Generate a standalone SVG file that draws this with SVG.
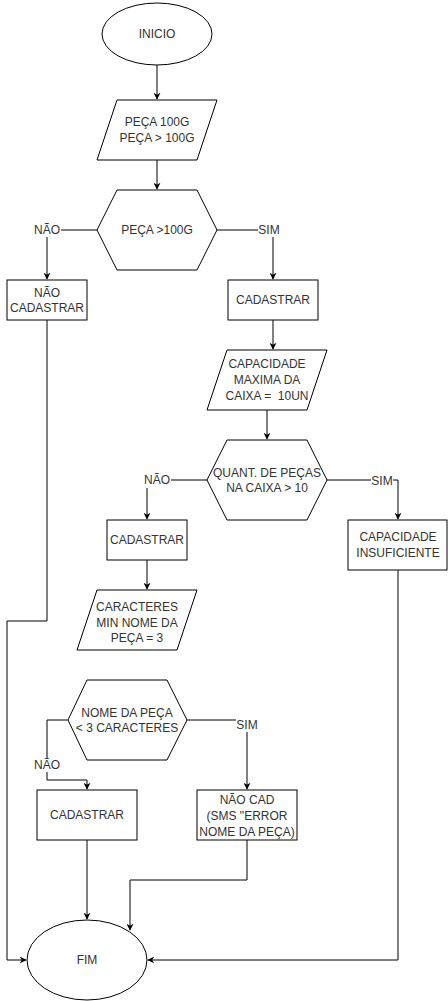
<svg xmlns="http://www.w3.org/2000/svg" width="448" height="1001" viewBox="0 0 448 1001">
<defs>
<marker id="arr" viewBox="0 0 10 10" refX="9" refY="5" markerWidth="7" markerHeight="7" orient="auto" markerUnits="userSpaceOnUse">
<path d="M0,0 L10,5 L0,10 L3,5 Z" fill="#000"/>
</marker>
<style>
.s{fill:#fff;stroke:#000;stroke-width:1}
.t{font-family:"Liberation Sans",Arial,sans-serif;font-size:12px;fill:#333;text-anchor:middle;dominant-baseline:central;white-space:pre}
.c{fill:none;stroke:#000;stroke-width:1}
.lb{fill:#fff}
</style>
</defs>
<rect width="448" height="1001" fill="#fff"/>
<g id="connectors">
<path class="c" d="M157,65 V99" marker-end="url(#arr)"/>
<path class="c" d="M157,160 V189" marker-end="url(#arr)"/>
<path class="c" d="M97,230 H47 V279" marker-end="url(#arr)"/>
<path class="c" d="M217,230 H273 V279" marker-end="url(#arr)"/>
<path class="c" d="M273,320 V349" marker-end="url(#arr)"/>
<path class="c" d="M267,410 V439" marker-end="url(#arr)"/>
<path class="c" d="M327,480 H398 V519" marker-end="url(#arr)"/>
<path class="c" d="M207,480 H147 V519" marker-end="url(#arr)"/>
<path class="c" d="M147,560 V589" marker-end="url(#arr)"/>
<path class="c" d="M47,320 V621 H7 V960 H26" marker-end="url(#arr)"/>
<path class="c" d="M187,720 H247 V789" marker-end="url(#arr)"/>
<path class="c" d="M68,720 H47 V780 H87 V789" marker-end="url(#arr)"/>
<path class="c" d="M87,840 V919" marker-end="url(#arr)"/>
<path class="c" d="M247,840 V880 H130 V930" marker-end="url(#arr)"/>
<path class="c" d="M398,570 V960 H148" marker-end="url(#arr)"/>
<rect class="lb" x="33" y="223" width="28" height="14"/>
<text class="t" x="47" y="230">NÃO</text>
<rect class="lb" x="258" y="223" width="22" height="14"/>
<text class="t" x="269" y="230">SIM</text>
<rect class="lb" x="371" y="474" width="22" height="14"/>
<text class="t" x="382" y="481">SIM</text>
<rect class="lb" x="143" y="474" width="28" height="14"/>
<text class="t" x="157" y="480">NÃO</text>
<rect class="lb" x="236" y="718" width="22" height="14"/>
<text class="t" x="247" y="725">SIM</text>
<rect class="lb" x="33" y="758" width="28" height="14"/>
<text class="t" x="47" y="765">NÃO</text>
</g>
<g id="inicio">
<ellipse class="s" cx="157" cy="34" rx="55" ry="31"/>
<text class="t" x="157" y="34">INICIO</text>
</g>
<g id="peca-input">
<polygon class="s" points="117,100 217,100 197,160 97,160"/>
<text class="t" x="157" y="122">PEÇA 100G</text>
<text class="t" x="157" y="138">PEÇA &gt; 100G</text>
</g>
<g id="dec-peca">
<polygon class="s" points="117,190 197,190 217,230 197,270 117,270 97,230"/>
<text class="t" x="157" y="230">PEÇA &gt;100G</text>
</g>
<g id="nao-cadastrar">
<rect class="s" x="7" y="280" width="80" height="40"/>
<text class="t" x="47" y="293">NÃO</text>
<text class="t" x="47" y="308">CADASTRAR</text>
</g>
<g id="cadastrar1">
<rect class="s" x="228" y="280" width="90" height="40"/>
<text class="t" x="273" y="300">CADASTRAR</text>
</g>
<g id="capacidade">
<polygon class="s" points="227,350 327,350 307,410 207,410"/>
<text class="t" x="267" y="364">CAPACIDADE</text>
<text class="t" x="267" y="380">MAXIMA DA</text>
<text class="t" x="267" y="396">CAIXA =&#160; 10UN</text>
</g>
<g id="dec-quant">
<polygon class="s" points="227,440 307,440 327,480 307,520 227,520 207,480"/>
<text class="t" x="267" y="473">QUANT. DE PEÇAS</text>
<text class="t" x="267" y="488">NA CAIXA &gt; 10</text>
</g>
<g id="insuficiente">
<rect class="s" x="348" y="520" width="99" height="50"/>
<text class="t" x="398" y="537">CAPACIDADE</text>
<text class="t" x="398" y="553">INSUFICIENTE</text>
</g>
<g id="cadastrar2">
<rect class="s" x="107" y="520" width="80" height="40"/>
<text class="t" x="147" y="540">CADASTRAR</text>
</g>
<g id="caracteres">
<polygon class="s" points="97,590 197,590 177,650 77,650"/>
<text class="t" x="137" y="607">CARACTERES</text>
<text class="t" x="137" y="623">MIN NOME DA</text>
<text class="t" x="137" y="638">PEÇA = 3</text>
</g>
<g id="dec-nome">
<polygon class="s" points="87,680 167,680 187,720 167,760 87,760 68,720"/>
<text class="t" x="127" y="713">NOME DA PEÇA</text>
<text class="t" x="127" y="728">&lt; 3 CARACTERES</text>
</g>
<g id="cadastrar3">
<rect class="s" x="37" y="790" width="100" height="50"/>
<text class="t" x="87" y="815">CADASTRAR</text>
</g>
<g id="nao-cad">
<rect class="s" x="197" y="790" width="100" height="50"/>
<text class="t" x="247" y="800">NÃO CAD</text>
<text class="t" x="247" y="816">(SMS "ERROR</text>
<text class="t" x="247" y="832">NOME DA PEÇA)</text>
</g>
<g id="fim">
<ellipse class="s" cx="87" cy="960" rx="60" ry="40"/>
<text class="t" x="87" y="960">FIM</text>
</g>
</svg>
